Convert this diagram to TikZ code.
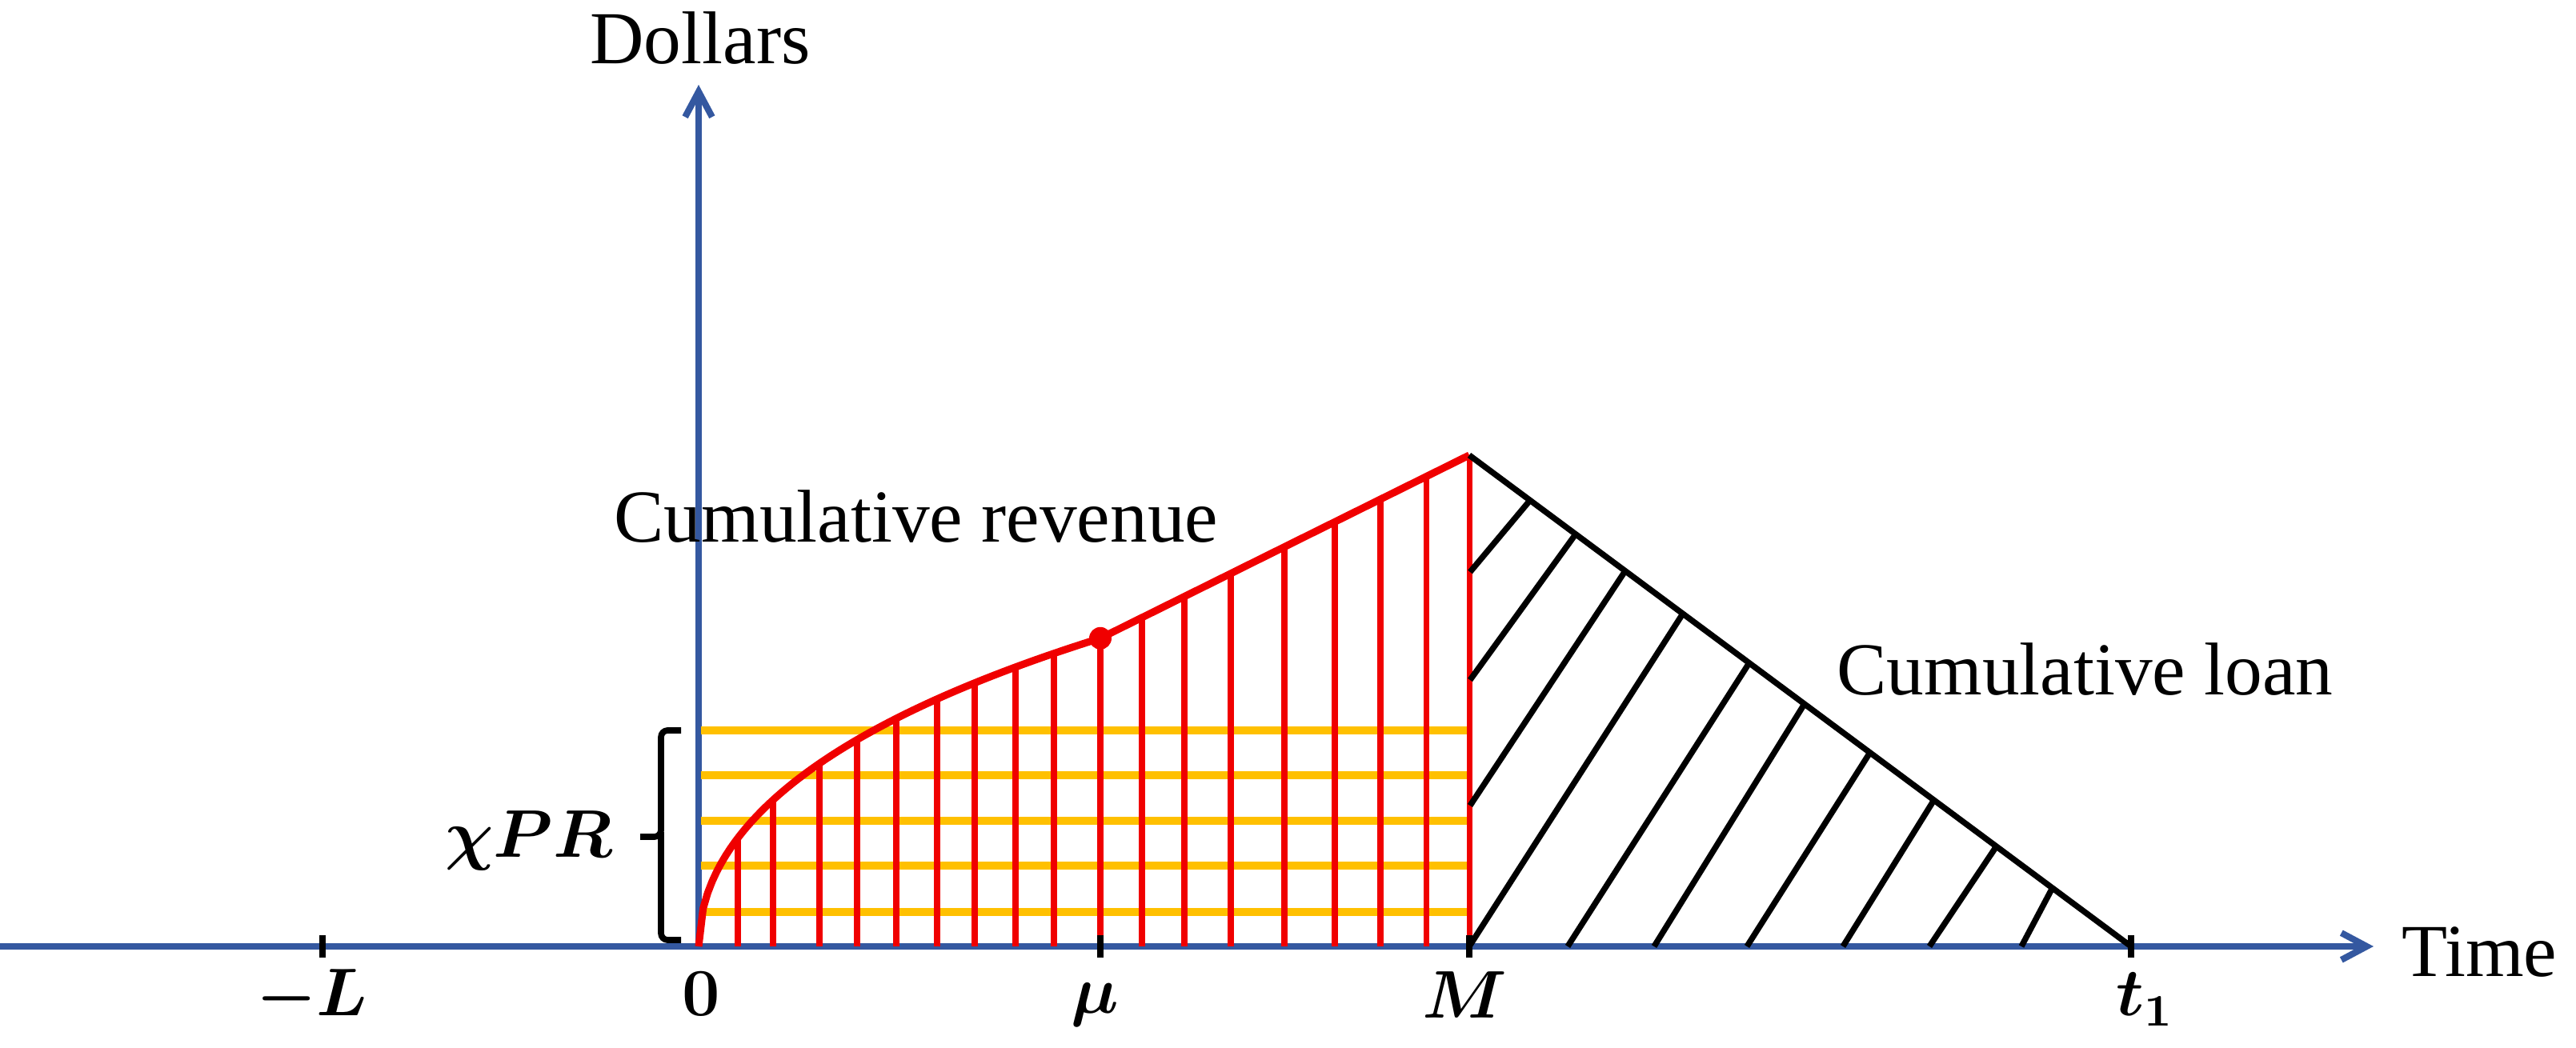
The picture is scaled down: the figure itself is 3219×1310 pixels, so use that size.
\documentclass[tikz,border=0pt]{standalone}
\usepackage{fontspec}
\setmainfont{Liberation Serif}
\usetikzlibrary{arrows.meta}
\definecolor{axisblue}{RGB}{52,88,160}
\definecolor{revred}{RGB}{240,0,0}
\definecolor{gold}{RGB}{255,192,0}
\begin{document}
\begin{tikzpicture}[x=0.005cm, y=-0.005cm,
  axisline/.style={draw=axisblue, line width=1.15pt, -{Straight Barb[length=4.5pt,width=4.8pt]}},
  goldline/.style={draw=gold, line width=1.35pt},
  redv/.style={draw=revred, line width=1pt},
  redc/.style={draw=revred, line width=1.3pt, line join=round},
  hatch/.style={draw=black, line width=1.05pt},
  tickmark/.style={draw=black, line width=1.2pt},
  bracestyle/.style={draw=black, line width=1.1pt, rounded corners=1.2pt},
  lbl/.style={inner sep=0pt, font=\fontsize{13.3}{16}\selectfont},
  mlbl/.style={inner sep=0pt, font=\fontsize{11.6}{14}\selectfont\boldmath}]
\useasboundingbox (0,0) rectangle (3219,1310);

% key points
\coordinate (O) at (873,1183);
\coordinate (xstart) at (0,1183);
\coordinate (xend) at (2966,1183);
\coordinate (yend) at (873,106);
\coordinate (mu) at (1375,797.8);
\coordinate (peak) at (1836,569);
\coordinate (Mbase) at (1836,1183);
\coordinate (t1) at (2663,1183);

% axes
\draw[axisline] (xstart) -- (xend);
\draw[axisline] (O) -- (yend);

% gold horizontal lines
\foreach \yy in {913,969,1026,1082,1140}
  \draw[goldline] (876,\yy) -- (1833,\yy);

% red vertical lines under the curve
\foreach \xx in {922,966,1024,1071,1120,1171,1218,1269,1317,1375}
  \draw[redv] (\xx,1183) -- ({\xx},{1183-(20.33*sqrt(\xx-873)-0.14*(\xx-873))});
\foreach \xx in {1427,1480,1538,1605,1668,1725,1782}
  \draw[redv] (\xx,1183) -- ({\xx},{797.8-(\xx-1375)*0.4963});
\draw[redv] (Mbase) -- (peak);

% revenue curve
\draw[redc] plot[domain=0:502, samples=90] ({873+\x},{1183-(20.33*sqrt(\x)-0.14*\x)}) -- (peak);
\fill[revred] (mu) circle[radius=14];

% loan triangle
\draw[hatch, line join=round] (peak) -- (t1);
\draw[hatch] (1837,715) -- (1912,625.3);
\draw[hatch] (1837,850) -- (1969,667.6);
\draw[hatch] (1837,1007) -- (2031,713.5);
\draw[hatch] (Mbase) -- (2103,766.9);
\draw[hatch] (1959,1183) -- (2186,828.4);
\draw[hatch] (2067,1183) -- (2255,879.6);
\draw[hatch] (2183,1183) -- (2337,940.3);
\draw[hatch] (2303,1183) -- (2417,999.6);
\draw[hatch] (2411,1183) -- (2495,1057.5);
\draw[hatch] (2526,1183) -- (2565,1109.3);

% ticks
\foreach \xx in {403,1375,1836,2663}
  \draw[tickmark] (\xx,1169) -- (\xx,1197);

% brace
\draw[bracestyle] (851,913) -- (826,913) -- (826,1046) -- (800,1046);
\draw[bracestyle] (826,1040) -- (826,1175) -- (851,1175);

% labels
\node[lbl, anchor=base] (dollars) at (875,80) {Dollars};
\node[lbl, anchor=base west] (rev) at (766,678) {Cumulative revenue};
\node[lbl, anchor=base west] (loan) at (2294,868) {Cumulative loan};
\node[lbl, anchor=base west] (time) at (3000,1220) {Time};
\node[mlbl, anchor=base west] (chi) at (555,1072) {$\chi PR$};
\node[mlbl, anchor=base] (Llab) at (390,1270) {$-L$};
\node[mlbl, anchor=base] (zero) at (876,1270) {$0$};
\node[mlbl, anchor=base] (mulab) at (1368,1266) {$\mu$};
\node[mlbl, anchor=base] (Mlab) at (1830,1272) {$M$};
\node[mlbl, anchor=base west] (t1lab) at (2643,1270) {$t_1$};
\end{tikzpicture}
\end{document}
